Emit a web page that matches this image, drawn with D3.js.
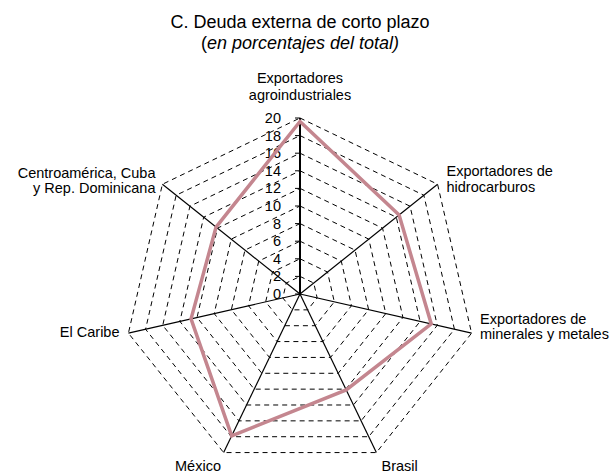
<!DOCTYPE html>
<html>
<head>
<meta charset="utf-8">
<script src="https://cdn.jsdelivr.net/npm/d3@7"></script>
<style>
  body { margin: 0; background: #fff; }
  svg { font-family: "Liberation Sans", Arial, sans-serif; }
</style>
</head>
<body>
<div id="chart"></div>
<script>
const categories = [
  ["Exportadores", "agroindustriales"],
  ["Exportadores de", "hidrocarburos"],
  ["Exportadores de", "minerales y metales"],
  ["Brasil"],
  ["México"],
  ["El Caribe"],
  ["Centroamérica, Cuba", "y Rep. Dominicana"],
];
const values = [19.6, 14.4, 15.3, 12.1, 17.9, 12.7, 12.2];
const ticks = [0, 2, 4, 6, 8, 10, 12, 14, 16, 18, 20];

const width = 613, height = 474;
const cx = 300, cy = 294;
const svg = d3.select("#chart").append("svg").attr("width", width).attr("height", height);

const r = d3.scaleLinear().domain([0, 20]).range([0, 176]);
const angle = (i) => (i * 2 * Math.PI) / categories.length;
const g = svg.append("g").attr("transform", `translate(${cx},${cy})`);

// grid polygons
g.selectAll(".grid")
  .data(ticks.slice(1))
  .join("path")
  .attr("class", "grid")
  .attr("d", (t) => d3.lineRadial().curve(d3.curveLinearClosed).angle((d, i) => angle(i)).radius(r(t))(categories))
  .attr("fill", "none")
  .attr("stroke", "#000")
  .attr("stroke-width", 1)
  .attr("stroke-dasharray", "5,4");

// axes
g.selectAll(".axis")
  .data(categories)
  .join("line")
  .attr("class", "axis")
  .attr("x1", 0)
  .attr("y1", 0)
  .attr("x2", (d, i) => r(20) * Math.sin(angle(i)))
  .attr("y2", (d, i) => -r(20) * Math.cos(angle(i)))
  .attr("stroke", "#000")
  .attr("stroke-width", (d, i) => (i === 0 ? 2 : 1.2));

// value axis ticks + labels
g.selectAll(".tick")
  .data(ticks)
  .join("line")
  .attr("x1", -5)
  .attr("x2", 0)
  .attr("y1", (t) => -r(t))
  .attr("y2", (t) => -r(t))
  .attr("stroke", "#000");
g.selectAll(".ticklabel")
  .data(ticks)
  .join("text")
  .attr("x", -19)
  .attr("y", (t) => -r(t))
  .attr("dy", "0.35em")
  .attr("text-anchor", "end")
  .attr("font-size", 14.5)
  .attr("fill", "#000")
  .text((t) => t);

// series
g.append("path")
  .datum(values)
  .attr("d", d3.lineRadial().curve(d3.curveLinearClosed).angle((d, i) => angle(i)).radius((d) => r(d)))
  .attr("fill", "none")
  .attr("stroke", "#c4868f")
  .attr("stroke-width", 3.5)
  .attr("stroke-linejoin", "miter");

// category labels
const labelPos = [
  { x: 300, y: 83, anchor: "middle", lh: 17 },
  { x: 446.5, y: 176, anchor: "start", lh: 15.7 },
  { x: 480, y: 324, anchor: "start", lh: 15 },
  { x: 381.5, y: 471, anchor: "start", lh: 16 },
  { x: 198, y: 471, anchor: "middle", lh: 16 },
  { x: 119.5, y: 337, anchor: "end", lh: 16 },
  { x: 155.5, y: 177.5, anchor: "end", lh: 15.5 },
];
const labels = svg.selectAll(".catlabel")
  .data(categories)
  .join("text")
  .attr("class", "catlabel")
  .attr("font-size", 14.5)
  .attr("fill", "#000")
  .attr("text-anchor", (d, i) => labelPos[i].anchor);
labels.selectAll("tspan")
  .data((d, i) => d.map((line) => ({ line, i })))
  .join("tspan")
  .attr("x", (d) => labelPos[d.i].x)
  .attr("y", (d, j) => labelPos[d.i].y + j * labelPos[d.i].lh)
  .text((d) => d.line);

// title
svg.append("text")
  .attr("x", 300)
  .attr("y", 27.5)
  .attr("text-anchor", "middle")
  .attr("font-size", 18)
  .text("C. Deuda externa de corto plazo");
const sub = svg.append("text")
  .attr("x", 300)
  .attr("y", 48.5)
  .attr("text-anchor", "middle")
  .attr("font-size", 18);
sub.append("tspan").text("(");
sub.append("tspan").attr("font-style", "italic").text("en porcentajes del total)");
</script>
</body>
</html>
